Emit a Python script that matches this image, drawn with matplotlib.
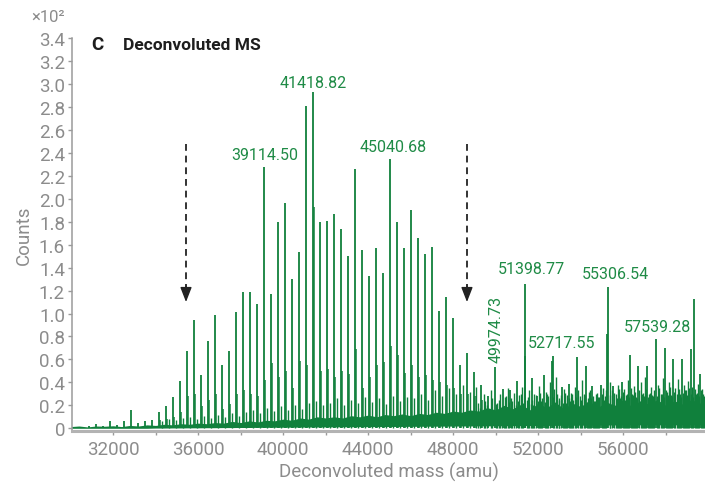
import matplotlib.pyplot as plt
from matplotlib.ticker import FixedLocator, MultipleLocator

plt.rcParams['font.family'] = ['Roboto', 'DejaVu Sans']

GREEN = '#10803c'
LABEL_GREEN = '#1f8b46'
GREY = '#8c8c8c'

# main charge-state ladder (amu, counts x100)
main_mass = [30883.5, 31212.7, 31541.9, 31871.2, 32200.4, 32529.6, 32858.9, 33188.1,
             33517.3, 33846.5, 34175.8, 34505.0, 34834.2, 35163.5, 35492.7, 35821.9,
             36151.2, 36480.4, 36809.6, 37138.8, 37468.1, 37797.3, 38126.5, 38455.8,
             38785.0, 39114.50, 39443.5, 39772.7, 40101.9, 40431.1, 40760.4, 41089.6,
             41418.82, 41748.0, 42077.3, 42406.5, 42735.7, 43065.0, 43394.2, 43723.4,
             44052.6, 44381.9, 44711.1, 45040.68, 45369.6, 45698.8, 46028.0, 46357.3,
             46686.5, 47015.7, 47345.0, 47674.2, 48003.4, 48332.6, 48661.9, 48991.1,
             49320.3, 49649.6, 49974.73]
main_height = [0.02, 0.04, 0.02, 0.06, 0.03, 0.06, 0.16, 0.05,
               0.06, 0.07, 0.14, 0.19, 0.27, 0.41, 0.67, 0.94,
               0.46, 0.76, 0.99, 0.55, 0.67, 1.01, 1.19, 1.19,
               1.08, 2.28, 1.17, 1.80, 1.96, 1.30, 1.54, 2.81,
               2.93, 1.80, 1.81, 1.87, 1.74, 1.50, 2.26, 1.55,
               1.33, 1.57, 1.35, 2.35, 1.80, 1.57, 1.90, 1.66,
               1.52, 1.58, 1.02, 1.14, 0.96, 0.55, 0.66, 0.49,
               0.38, 0.28, 0.53]

# adduct peaks sitting just above each ladder peak
sat_mass = [34226, 34555, 34884, 35214, 35543, 35872, 36201, 36530, 36860, 37189,
            37518, 37847, 38177, 38506, 38835, 39165, 39494, 39823, 40152, 40481,
            40810, 41140, 41466, 41798, 42127, 42457, 42786, 43115, 43444, 43773,
            44103, 44432, 44761, 45091, 45420, 45749, 46078, 46407, 46737, 47066,
            47395, 47724, 48053, 48383, 48712, 49041, 49370]
sat_height = [0.07, 0.08, 0.10, 0.14, 0.28, 0.30, 0.19, 0.25, 0.30, 0.17,
              0.21, 0.30, 0.33, 0.30, 0.28, 0.42, 0.57, 0.45, 0.50, 0.35,
              0.59, 0.55, 1.93, 0.50, 0.52, 0.45, 0.50, 0.47, 0.69, 0.35,
              0.45, 0.55, 0.58, 0.72, 0.64, 0.48, 0.55, 0.45, 0.46, 0.42,
              0.40, 0.38, 0.35, 0.30, 0.30, 0.28, 0.25]

# high-mass species
side_mass = [50359, 50675, 51019, 51360, 51398.77, 51724, 51931, 52274, 52636, 52717.55,
             53107, 53465, 53841, 54236, 54518, 54942, 55224, 55306.54, 55534, 55929,
             56320, 56711, 57106, 57539.28, 57966, 58357, 58752, 59175, 59330, 59612]
side_height = [0.34, 0.33, 0.41, 0.63, 1.26, 0.44, 0.28, 0.46, 0.59, 0.63,
               0.36, 0.39, 0.62, 0.54, 0.37, 0.38, 0.82, 1.23, 0.37, 0.40,
               0.64, 0.54, 0.54, 0.78, 0.70, 0.60, 0.60, 0.69, 1.13, 0.47]

# small noise spikes
grass_mass = [34300, 34650, 34950, 35300, 35620, 35950, 36280, 36600, 36930, 37260,
              37600, 37920, 38250, 38600, 38900, 39250, 39580, 39900, 40230, 40560,
              40880, 41220, 41560, 41880, 42200, 42540, 42870, 43190, 43520, 43850,
              44180, 44500, 44830, 45170, 45500, 45830, 46150, 46480, 46800, 47130,
              47460, 47800, 48120, 48450, 48780, 49100, 49430, 49780,
              50080, 50200, 50290, 50450, 50560, 50780, 50870, 50950, 51120, 51230,
              51480, 51560, 51650, 51820, 52020, 52130, 52380, 52460, 52560, 52820,
              52900, 53000, 53200, 53300, 53380, 53560, 53650, 53740, 53950, 54060,
              54140, 54330, 54420, 54620, 54720, 54820, 55050, 55130, 55400, 55460,
              55640, 55740, 55830, 56030, 56130, 56220, 56420, 56520, 56620, 56820,
              56920, 57010, 57220, 57320, 57420, 57650, 57760, 57860, 58060, 58160,
              58260, 58460, 58560, 58660, 58860, 58960, 59060, 59250, 59440, 59530,
              59720, 59800,
              49150, 49250, 49500, 49580, 49850, 50020, 50140, 50400, 50510, 50620,
              50730, 51060, 51180, 51290, 51520, 51700, 51760, 51880, 51980, 52080,
              52200, 52320, 52420, 52680, 52760, 52960, 53060, 53150, 53250, 53430,
              53500, 53610, 53800, 53890, 54000, 54200, 54280, 54380, 54480, 54570,
              54680, 54780, 54880, 54990, 55100, 55180, 55360, 55590, 55690, 55790,
              55880, 55980, 56080, 56180, 56280, 56370, 56470, 56570, 56670, 56760,
              56870, 56970, 57060, 57160, 57270, 57370, 57470, 57600, 57700, 57810,
              57910, 58010, 58110, 58210, 58310, 58410, 58510, 58610, 58710, 58810,
              58910, 59010, 59120, 59200, 59300, 59390, 59490, 59580, 59670, 59760]
grass_height = [0.06, 0.08, 0.07, 0.09, 0.10, 0.08, 0.11, 0.09, 0.12, 0.10,
                0.13, 0.11, 0.14, 0.16, 0.13, 0.18, 0.15, 0.19, 0.16, 0.20,
                0.17, 0.22, 0.24, 0.20, 0.22, 0.26, 0.20, 0.25, 0.22, 0.27,
                0.23, 0.26, 0.21, 0.28, 0.24, 0.27, 0.26, 0.30, 0.25, 0.33,
                0.28, 0.35, 0.30, 0.38, 0.32, 0.36, 0.30, 0.33,
                0.22, 0.30, 0.18, 0.27, 0.35, 0.24, 0.31, 0.20, 0.29, 0.36,
                0.25, 0.33, 0.21, 0.30, 0.37, 0.24, 0.32, 0.28, 0.40, 0.45,
                0.30, 0.26, 0.34, 0.22, 0.29, 0.31, 0.25, 0.36, 0.28, 0.42,
                0.30, 0.26, 0.33, 0.24, 0.30, 0.27, 0.35, 0.28, 0.40, 0.33,
                0.30, 0.38, 0.26, 0.34, 0.29, 0.42, 0.30, 0.37, 0.27, 0.40,
                0.31, 0.45, 0.30, 0.36, 0.28, 0.38, 0.30, 0.44, 0.32, 0.40,
                0.29, 0.35, 0.43, 0.30, 0.38, 0.33, 0.41, 0.36, 0.30, 0.39,
                0.34, 0.28,
                0.22, 0.18, 0.24, 0.20, 0.26, 0.21, 0.25, 0.19, 0.28, 0.23,
                0.26, 0.24, 0.30, 0.22, 0.27, 0.25, 0.20, 0.29, 0.24, 0.31,
                0.26, 0.23, 0.30, 0.27, 0.34, 0.25, 0.29, 0.22, 0.31, 0.26,
                0.24, 0.30, 0.27, 0.33, 0.25, 0.29, 0.23, 0.32, 0.26, 0.28,
                0.24, 0.31, 0.27, 0.30, 0.25, 0.33, 0.29, 0.31, 0.26, 0.34,
                0.28, 0.32, 0.25, 0.30, 0.27, 0.35, 0.29, 0.32, 0.26, 0.33,
                0.30, 0.28, 0.34, 0.27, 0.31, 0.29, 0.33, 0.28, 0.35, 0.30,
                0.27, 0.33, 0.29, 0.36, 0.28, 0.32, 0.30, 0.34, 0.27, 0.31,
                0.33, 0.29, 0.35, 0.30, 0.27, 0.34, 0.31, 0.28, 0.33, 0.30]

# baseline noise band
noise_mass = [30000, 30400, 30800, 31200, 31600, 32000, 32400, 32800, 33200, 33600,
              34000, 34400, 34800, 35200, 35600, 36000, 36400, 36800, 37200, 37600,
              38000, 38400, 38800, 39200, 39600, 40000, 40400, 40800, 41200, 41600,
              42000, 42400, 42800, 43200, 43600, 44000, 44400, 44800, 45200, 45600,
              46000, 46400, 46800, 47200, 47600, 48000, 48400, 48800, 49200, 49600,
              50000, 50400, 50800, 51200, 51600, 52000, 52400, 52800, 53200, 53600,
              54000, 54400, 54800, 55200, 55600, 56000, 56400, 56800, 57200, 57600,
              58000, 58400, 58800, 59200, 59600, 60000]
noise_top = [0.015, 0.02, 0.012, 0.02, 0.018, 0.022, 0.015, 0.025, 0.02, 0.03,
             0.025, 0.035, 0.03, 0.04, 0.035, 0.045, 0.04, 0.05, 0.045, 0.06,
             0.05, 0.065, 0.055, 0.07, 0.065, 0.08, 0.07, 0.09, 0.08, 0.10,
             0.09, 0.10, 0.09, 0.11, 0.10, 0.115, 0.10, 0.12, 0.11, 0.125,
             0.11, 0.13, 0.12, 0.14, 0.13, 0.15, 0.14, 0.16, 0.15, 0.18,
             0.16, 0.20, 0.17, 0.21, 0.16, 0.22, 0.18, 0.23, 0.17, 0.22,
             0.19, 0.24, 0.18, 0.23, 0.20, 0.25, 0.19, 0.24, 0.21, 0.25,
             0.20, 0.24, 0.21, 0.25, 0.22, 0.23]
noise_low = [0.0, 0.0, 0.0, 0.0, 0.0, 0.0, 0.0, 0.0, 0.0, 0.0,
             0.002, 0.002, 0.003, 0.003, 0.004, 0.004, 0.005, 0.005, 0.006, 0.006,
             0.007, 0.007, 0.008, 0.008, 0.009, 0.009, 0.01, 0.01, 0.011, 0.011,
             0.012, 0.012, 0.013, 0.013, 0.014, 0.014, 0.015, 0.015, 0.016, 0.016,
             0.017, 0.017, 0.018, 0.018, 0.019, 0.019, 0.02, 0.02, 0.021, 0.021,
             0.022, 0.022, 0.023, 0.023, 0.024, 0.024, 0.025, 0.025, 0.026, 0.026,
             0.027, 0.027, 0.028, 0.028, 0.029, 0.029, 0.03, 0.03, 0.03, 0.03,
             0.03, 0.03, 0.03, 0.03, 0.03, 0.03]

# annotated masses: (mass, label x, label y, rotation)
labels = [(39114.50, 39150, 2.345, 0),
          (41418.82, 41408, 2.97, 0),
          (45040.68, 45171, 2.415, 0),
          (51398.77, 51686, 1.35, 0),
          (55306.54, 55614, 1.31, 0),
          (52717.55, 53121, 0.705, 0),
          (57539.28, 57590, 0.845, 0),
          (49974.73, 50002, 0.87, 90)]

arrow_mass = [35434, 48652]

fig = plt.figure(figsize=(7.05, 4.85), dpi=100)
ax = fig.add_axes([72 / 705, 0.1087, 633 / 705, 0.8109])

ax.fill_between(noise_mass, noise_low, noise_top, color=GREEN, lw=0)
ax.vlines(grass_mass, 0, grass_height, color=GREEN, lw=1.0)
ax.vlines(sat_mass, 0, sat_height, color=GREEN, lw=1.1)
ax.vlines(main_mass, 0, main_height, color=GREEN, lw=1.3)
ax.vlines(side_mass, 0, side_height, color=GREEN, lw=1.3)

for mass, lx, ly, rot in labels:
    if rot:
        ax.text(lx, ly, f'{mass:.2f}', rotation=90, ha='center', va='center',
                color=LABEL_GREEN, fontsize=11.5)
    else:
        ax.text(lx, ly, f'{mass:.2f}', ha='center', va='baseline',
                color=LABEL_GREEN, fontsize=11.5)

for xm in arrow_mass:
    ax.plot([xm, xm], [2.48, 1.2], ls=(0, (3.5, 2.5)), color='#333333', lw=1.4)
    ax.annotate('', xy=(xm, 1.10), xytext=(xm, 1.24),
                arrowprops=dict(arrowstyle='-|>,head_length=0.9,head_width=0.35',
                                color='#222222', lw=1.0, shrinkA=0, shrinkB=0))

ax.set_xlim(30070, 59850)
ax.set_ylim(-0.026, 3.4)

for side in ['top', 'right']:
    ax.spines[side].set_visible(False)
ax.spines['left'].set_color('#9a9a9a')
ax.spines['left'].set_linewidth(1.1)
ax.spines['left'].set_bounds(-0.026, 3.4)
ax.spines['bottom'].set_color('#b3b3b3')
ax.spines['bottom'].set_linewidth(2.2)

yticks = [i * 0.2 for i in range(18)]
ax.yaxis.set_major_locator(FixedLocator(yticks))
ax.set_yticklabels(['0'] + [f'{v:.1f}' for v in yticks[1:]])
ax.xaxis.set_major_locator(FixedLocator([32000, 36000, 40000, 44000, 48000, 52000, 56000]))
ax.xaxis.set_minor_locator(MultipleLocator(2000))
ax.tick_params(axis='both', which='both', direction='out', length=3, width=1,
               color='#9a9a9a', labelcolor=GREY, labelsize=13.5, pad=2)
ax.tick_params(axis='x', pad=3)

ax.set_xlabel('Deconvoluted mass (amu)', color=GREY, fontsize=13.5, labelpad=3)
ax.set_ylabel('Counts', color=GREY, fontsize=13.5, labelpad=4)

fig.text(31 / 705, 1 - 18 / 485, '×10²', color=GREY, fontsize=12, va='center')
fig.text(91 / 705, 1 - 45 / 485, 'C', color='#1e1e1e', fontsize=13.5,
         fontweight='bold', va='center')
fig.text(123 / 705, 1 - 45 / 485, 'Deconvoluted MS', color='#1e1e1e', fontsize=12.5,
         fontweight='bold', va='center')

fig.savefig('out.png', dpi=100)
